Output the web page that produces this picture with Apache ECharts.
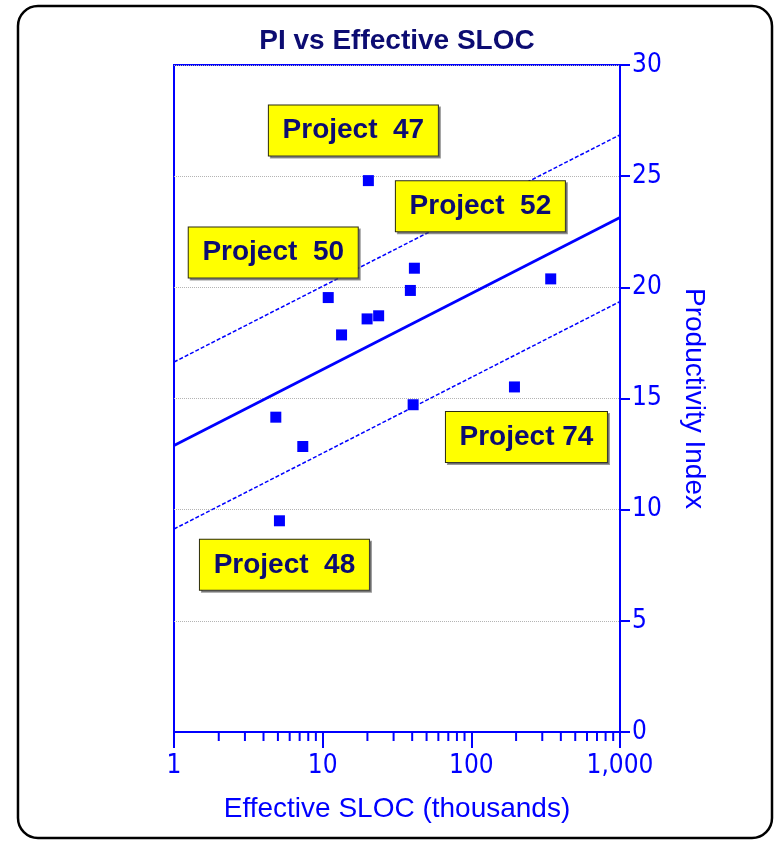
<!DOCTYPE html>
<html>
<head>
<meta charset="utf-8">
<script src="https://cdn.jsdelivr.net/npm/echarts@6/dist/echarts.min.js"></script>
<style>
  html, body { margin: 0; padding: 0; background: #ffffff; }
  #chart { width: 774px; height: 841px; }
</style>
</head>
<body>
<div id="chart"></div>
<script>
// Completed projects: effective SLOC (thousands) and productivity index
const projectSloc = [20.3, 41.4, 38.9, 10.9, 19.9, 23.8, 13.4, 4.84, 7.35, 40.6, 5.12, 195, 342];
const projectPI   = [24.8, 20.86, 19.86, 19.54, 18.58, 18.72, 17.86, 14.16, 12.84, 14.72, 9.50, 15.52, 20.38];
const projectNames = ['Project  47', 'Project  52', '', 'Project  50', '', '', '', '', '', '', 'Project  48', 'Project 74', ''];

// Trend line and its upper / lower band, taken at both ends of the size axis
const trendSloc = [1, 1000];
const trendPI = [12.89, 23.14];
const upperPI = [16.64, 26.86];
const lowerPI = [9.13, 19.36];

// Minor tick positions on the logarithmic size axis
const minorTickSloc = [2, 3, 4, 5, 6, 7, 8, 9, 20, 30, 40, 50, 60, 70, 80, 90, 200, 300, 400, 500, 600, 700, 800, 900];

const AXIS_BLUE = '#0000ff';
const NAVY = '#0c0c72';
const SANS = '"Liberation Sans", Arial, Helvetica, sans-serif';
const NARROW = '"Liberation Sans Narrow", "Arial Narrow", "DejaVu Sans Condensed", sans-serif';

// Where each callout box sits relative to its project's point (pixels)
const calloutOffset = {
  'Project  47': [-15, -50],
  'Project  52': [66, -62],
  'Project  50': [-55, -45],
  'Project 74': [12, 50],
  'Project  48': [5, 44]
};
const calloutWidth = { 'Project 74': 161 };

const chart = echarts.init(document.getElementById('chart'), null, { renderer: 'canvas' });

const pointData = projectSloc.map((x, i) => {
  const name = projectNames[i];
  const item = { value: [x, projectPI[i]], name: name };
  if (name) {
    item.label = {
      show: true,
      offset: calloutOffset[name],
      width: calloutWidth[name] || 169
    };
  }
  return item;
});

const pairs = (xs, ys) => xs.map((x, i) => [x, ys[i]]);

chart.setOption({
  animation: false,
  backgroundColor: '#ffffff',
  title: {
    text: 'PI vs Effective SLOC',
    left: 397,
    top: 27,
    textAlign: 'center',
    padding: 0,
    textStyle: { color: NAVY, fontFamily: SANS, fontWeight: 'bold', fontSize: 28 }
  },
  graphic: [{
    type: 'rect',
    z: -10,
    silent: true,
    shape: { x: 18, y: 6, width: 754, height: 832, r: 20 },
    style: { fill: 'none', stroke: '#000000', lineWidth: 2.5 }
  }],
  grid: {
    left: 174, right: 154, top: 65, bottom: 109,
    show: true, borderColor: AXIS_BLUE, borderWidth: 2, backgroundColor: 'transparent'
  },
  xAxis: {
    type: 'log',
    logBase: 10,
    min: 1,
    max: 1000,
    name: 'Effective SLOC (thousands)',
    nameLocation: 'middle',
    nameGap: 63,
    nameTextStyle: { color: AXIS_BLUE, fontFamily: SANS, fontSize: 28 },
    axisLine: { show: true, lineStyle: { color: AXIS_BLUE, width: 2 } },
    axisTick: { show: true, length: 16, lineStyle: { color: AXIS_BLUE, width: 2 } },
    minorTick: { show: false },
    splitLine: { show: false },
    axisLabel: {
      color: AXIS_BLUE, fontFamily: NARROW, fontSize: 26, margin: 21,
      formatter: v => Math.round(v).toLocaleString('en-US')
    }
  },
  yAxis: {
    type: 'value',
    position: 'right',
    min: 0,
    max: 30,
    interval: 5,
    name: 'Productivity Index',
    nameLocation: 'middle',
    nameRotate: -90,
    nameGap: 60,
    nameTextStyle: { color: AXIS_BLUE, fontFamily: SANS, fontSize: 28 },
    axisLine: { show: true, lineStyle: { color: AXIS_BLUE, width: 2 } },
    axisTick: { show: true, length: 10, lineStyle: { color: AXIS_BLUE, width: 2 } },
    splitLine: { show: true, lineStyle: { color: '#b4b4b4', type: 'dotted', width: 1 } },
    axisLabel: { color: AXIS_BLUE, fontFamily: NARROW, fontSize: 26, margin: 12 }
  },
  series: [
    {
      name: 'minor ticks',
      type: 'custom',
      silent: true,
      clip: false,
      z: 5,
      data: minorTickSloc.map(v => [v, 0]),
      renderItem: (params, api) => {
        const p = api.coord([api.value(0), 0]);
        return {
          type: 'line',
          shape: { x1: p[0], y1: p[1], x2: p[0], y2: p[1] + 9 },
          style: { stroke: AXIS_BLUE, lineWidth: 2 }
        };
      }
    },
    {
      name: 'upper band',
      type: 'line',
      data: pairs(trendSloc, upperPI),
      showSymbol: false,
      silent: true,
      lineStyle: { color: AXIS_BLUE, width: 1.5, type: [4, 2] },
      z: 3
    },
    {
      name: 'lower band',
      type: 'line',
      data: pairs(trendSloc, lowerPI),
      showSymbol: false,
      silent: true,
      lineStyle: { color: AXIS_BLUE, width: 1.5, type: [4, 2] },
      z: 3
    },
    {
      name: 'trend',
      type: 'line',
      data: pairs(trendSloc, trendPI),
      showSymbol: false,
      silent: true,
      lineStyle: { color: AXIS_BLUE, width: 2.8 },
      z: 3
    },
    {
      name: 'projects',
      type: 'scatter',
      data: pointData,
      symbol: 'rect',
      symbolSize: 11,
      itemStyle: { color: AXIS_BLUE, opacity: 1 },
      z: 10,
      label: {
        show: false,
        position: 'inside',
        formatter: p => p.name,
        color: NAVY,
        opacity: 1,
        fontFamily: SANS,
        fontWeight: 'bold',
        fontSize: 28,
        height: 50,
        align: 'center',
        verticalAlign: 'middle',
        backgroundColor: '#ffff00',
        borderColor: '#2b2b10',
        borderWidth: 1,
        shadowColor: 'rgba(70,70,70,0.55)',
        shadowOffsetX: 2,
        shadowOffsetY: 2,
        shadowBlur: 0
      }
    }
  ]
});
</script>
</body>
</html>
